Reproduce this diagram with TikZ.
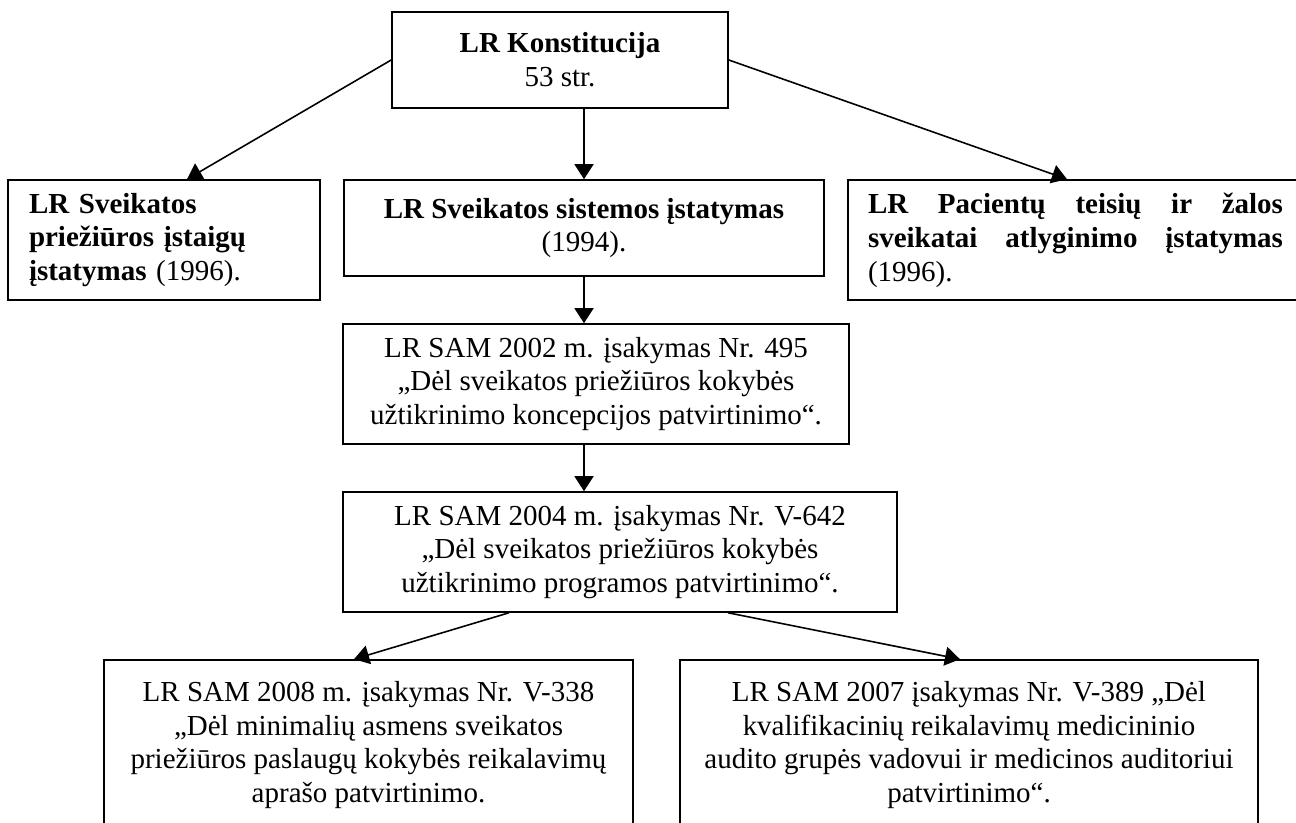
\documentclass[tikz,border=0pt]{standalone}
\usepackage{fontspec}
\setmainfont{Liberation Serif}
\usetikzlibrary{arrows.meta}
\tikzstyle{box}=[draw,line width=0.9pt,inner sep=0pt,align=center,font=\fontsize{16.5}{19.3}\selectfont]
\tikzstyle{line}=[draw,line width=0.9pt,-{Triangle[length=0.3cm,width=0.38cm]}]
\newcommand{\fullline}[1]{\leavevmode\hbox to 8.3cm{\bfseries #1}}

\begin{document}
\begin{tikzpicture}
  \useasboundingbox (0,0) rectangle (25.92,16.46);
  \node[box,minimum width=6.72cm,minimum height=1.92cm] (konst) at (11.2,15.26)
    {\textbf{LR Konstitucija}\\53 str.};
  \node[box,minimum width=6.24cm,minimum height=2.4cm,text width=5.4cm,align=left] (istaigu) at (3.28,11.66)
    {\textbf{LR Sveikatos}\\\textbf{priežiūros įstaigų}\\\textbf{įstatymas} (1996).};
  \node[box,minimum width=9.6cm,minimum height=1.92cm] (sistemos) at (11.68,11.9)
    {\textbf{LR Sveikatos sistemos įstatymas}\\(1994).};
  \node[box,minimum width=9.1cm,minimum height=2.4cm,text width=8.3cm,align=left] (pacientu) at (21.51,11.66)
    {\fullline{LR\hfill Pacientų\hfill teisių\hfill ir\hfill žalos}\\\fullline{sveikatai\hfill atlyginimo\hfill įstatymas}\\(1996).};
  \node[box,minimum width=10.12cm,minimum height=2.4cm] (sam2002) at (11.92,8.78)
    {LR SAM 2002 m. įsakymas Nr. 495\\„Dėl sveikatos priežiūros kokybės\\užtikrinimo koncepcijos patvirtinimo“.};
  \node[box,minimum width=11.08cm,minimum height=2.4cm] (sam2004) at (12.4,5.42)
    {LR SAM 2004 m. įsakymas Nr. V-642\\„Dėl sveikatos priežiūros kokybės\\užtikrinimo programos patvirtinimo“.};
  \node[box,minimum width=10.58cm,minimum height=3.4cm] (sam2008) at (7.37,1.56)
    {LR SAM 2008 m. įsakymas Nr. V-338\\„Dėl minimalių asmens sveikatos\\priežiūros paslaugų kokybės reikalavimų\\aprašo patvirtinimo.};
  \node[box,minimum width=11.56cm,minimum height=3.4cm] (sam2007) at (19.38,1.56)
    {LR SAM 2007 įsakymas Nr. V-389 „Dėl\\kvalifikacinių reikalavimų medicininio\\audito grupės vadovui ir medicinos auditoriui\\patvirtinimo“.};
  % arrows
  \path[line] (konst.west) -- ([xshift=0.46cm]istaigu.north);
  \path[line] (konst.south -| sistemos.north) -- (sistemos.north);
  \path[line] (konst.east) -- ([xshift=-0.17cm]pacientu.north);
  \path[line] (sistemos.south) -- (sam2002.north -| sistemos.south);
  \path[line] (sam2002.south -| sistemos.south) -- (sam2004.north -| sistemos.south);
  \path[line] ([xshift=-2.22cm]sam2004.south) -- ([xshift=-0.29cm]sam2008.north);
  \path[line] ([xshift=2.16cm]sam2004.south) -- ([xshift=-0.18cm]sam2007.north);
\end{tikzpicture}
\end{document}
